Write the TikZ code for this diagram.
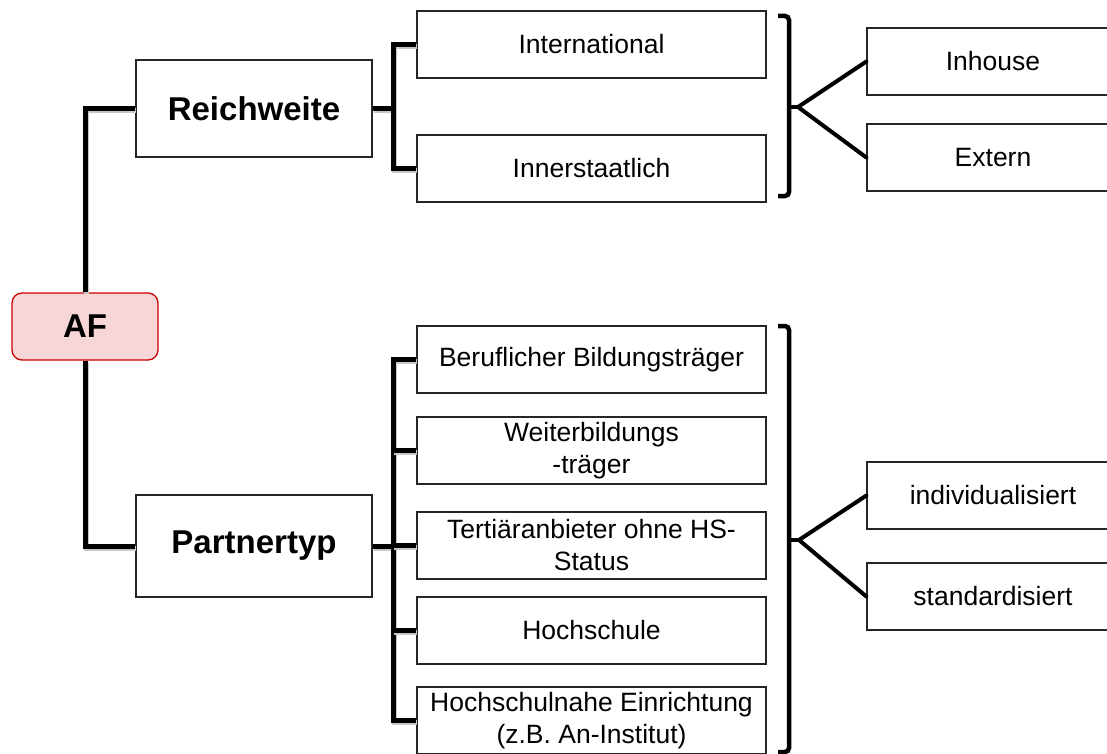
\documentclass[tikz,border=0pt]{standalone}
\usepackage{fontspec}
\setmainfont{Liberation Sans}
\begin{document}
\begin{tikzpicture}[x=1pt,y=-1pt,
  box/.style={draw=black!85,line width=1.3pt,fill=white,rectangle,inner sep=0pt,
    minimum height=67pt,align=center,font=\fontsize{26.5}{32}\selectfont},
  midbox/.style={box,minimum width=349pt},
  sidebox/.style={box,minimum width=252pt},
  headbox/.style={box,minimum width=236pt,font=\fontsize{33}{38}\selectfont\bfseries},
  rootbox/.style={draw={rgb,255:red,204;green,0;blue,0},fill={rgb,255:red,246;green,214;blue,214},
    line width=1.3pt,rounded corners=10pt,minimum width=146pt,minimum height=67pt,inner sep=0pt,
    font=\fontsize{33}{38}\selectfont\bfseries},
  tree/.style={line width=5pt,line join=miter,black,
    preaction={draw=black!22,line width=5pt,transform canvas={shift={(1pt,-2pt)}}}},
  brace/.style={line width=4.5pt,rounded corners=4pt,black},
  fan/.style={line width=4pt,black,line cap=round}]
\useasboundingbox (0,0) rectangle (1107,754);
\clip (0,0) rectangle (1107,754);

% junction points of the trees and tips of the braces
\coordinate (rj) at (393,108.5);
\coordinate (pj) at (393,546);
\coordinate (tipA) at (798,107);
\coordinate (tipB) at (799,540);

\node[rootbox] (af) at (85,326.5) {AF};
\node[headbox,minimum height=97pt] (reich) at (254,108.5) {Reichweite};
\node[headbox,minimum height=102pt] (partner) at (254,546) {Partnertyp};

% tree connectors
\draw[tree] (af.north) |- (reich.west);
\draw[tree] (af.south) |- (partner.west);

\node[midbox] (intl) at (591.5,44.5) {International};
\node[midbox] (inner) at (591.5,168.5) {Innerstaatlich};

\draw[tree] (reich.east) -- (rj);
\draw[tree] (intl.west) -| (rj) |- (inner.west);

\node[midbox] (b1) at (591.5,359.5) {Beruflicher Bildungsträger};
\node[midbox] (b2) at (591.5,450.5) {Weiterbildungs\\-träger};
\node[midbox] (b3) at (591.5,545.5) {Tertiäranbieter ohne HS-\\Status};
\node[midbox] (b4) at (591.5,630.5) {Hochschule};
\node[midbox] (b5) at (591.5,720.5) {Hochschulnahe Einrichtung\\(z.B. An-Institut)};

\draw[tree] (partner.east) -- (pj);
\draw[tree] (b1.west) -| (pj) |- (b5.west);
\draw[tree] (b2.west) -- (b2.west -| pj);
\draw[tree] (b3.west) -- (b3.west -| pj);
\draw[tree] (b4.west) -- (b4.west -| pj);

% right-hand braces
\draw[brace] (778,16) -- (789,16) -- (789,196) -- (778,196);
\draw[line width=4.5pt] (789,107) -- (tipA);
\draw[brace] (778,326) -- (789,326) -- (789,752) -- (778,752);
\draw[line width=4.5pt] (789,540) -- (tipB);

\node[sidebox] (inhouse) at (993,61.5) {Inhouse};
\node[sidebox] (extern) at (993,157.5) {Extern};
\node[sidebox] (indiv) at (993,495.5) {individualisiert};
\node[sidebox] (stand) at (993,596.5) {standardisiert};

\draw[fan] (tipA) -- (inhouse.west);
\draw[fan] (tipA) -- (extern.west);
\draw[fan] (tipB) -- (indiv.west);
\draw[fan] (tipB) -- (stand.west);
\end{tikzpicture}
\end{document}
